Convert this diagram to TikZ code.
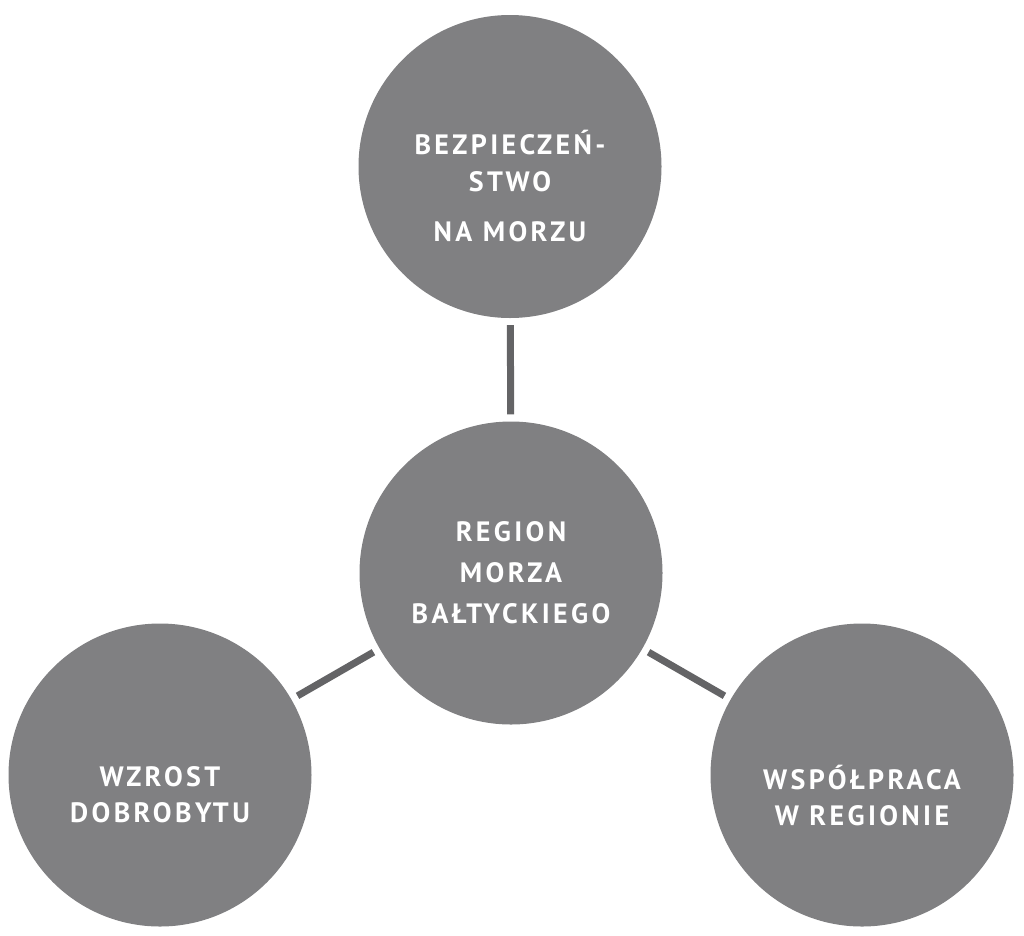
\documentclass[tikz,border=0pt]{standalone}
\usepackage{fontspec}
\setmainfont{PT Sans}[LetterSpace=12]
\begin{document}
\begin{tikzpicture}[x=1pt,y=-1pt,
  bubble/.style={circle,fill=bubblegray,draw=none,minimum size=303pt,inner sep=0pt},
  txt/.style={text=white,align=center,font=\bfseries\fontsize{28}{41}\selectfont,inner sep=0pt},
  link/.style={draw=linkgray,line width=7pt,shorten >=7pt,shorten <=7pt}]
\definecolor{bubblegray}{RGB}{128,128,130}
\definecolor{linkgray}{RGB}{100,100,102}
\path[use as bounding box] (0,0) rectangle (1024,935);
\node[bubble] (top) at (510,166.5) {};
\node[bubble] (mid) at (511,573) {};
\node[bubble] (left) at (160,775) {};
\node[bubble] (right) at (862,775) {};
\draw[link] (top) -- (mid);
\draw[link] (mid) -- (left);
\draw[link] (mid) -- (right);
\node[txt,font=\bfseries\fontsize{28}{37}\selectfont] (toptext) at ([yshift=-20pt]top.center) {BEZPIECZEŃ-\\STWO\\[13pt]NA MORZU};
\node[txt] (midtext) at (mid.center) {REGION\\MORZA\\BAŁTYCKIEGO};
\node[txt,font=\bfseries\fontsize{28}{36}\selectfont] (lefttext) at ([yshift=-20pt]left.center) {WZROST\\DOBROBYTU};
\node[txt,font=\bfseries\fontsize{28}{36}\selectfont] (righttext) at ([yshift=-20pt]right.center) {WSPÓŁPRACA\\W REGIONIE};
\end{tikzpicture}
\end{document}
